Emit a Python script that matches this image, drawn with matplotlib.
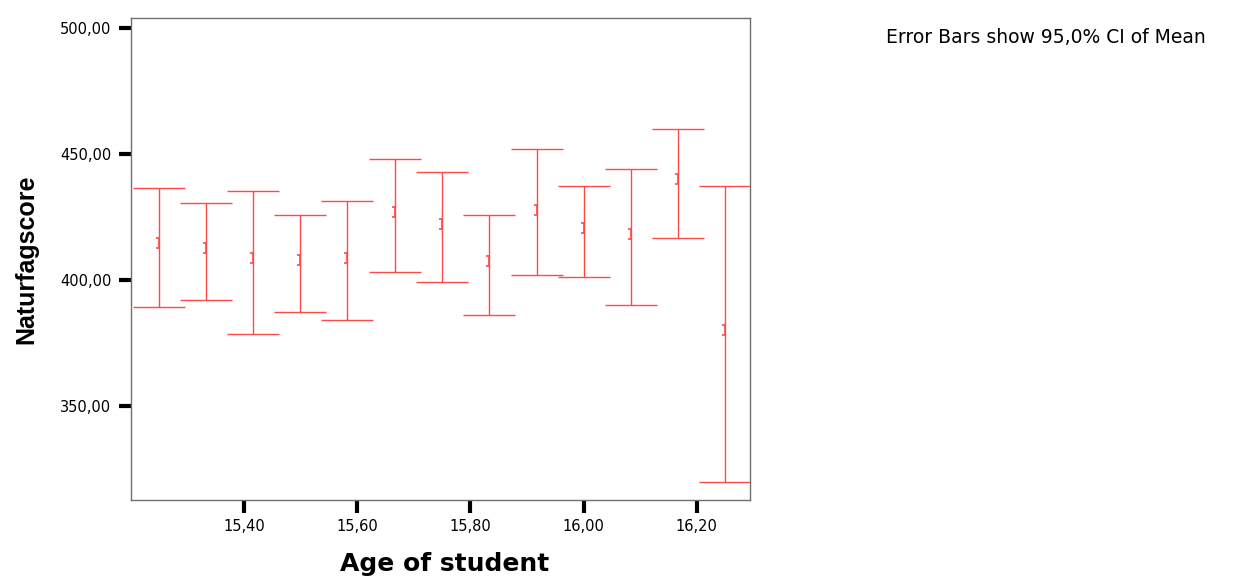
import matplotlib
matplotlib.use("Agg")
import matplotlib.pyplot as plt
from matplotlib.path import Path
from matplotlib.ticker import FuncFormatter

plt.rcParams["font.family"] = ["DejaVu Sans"]

# age of student (years) and 95% CI of Naturfagscore
ages = [15.25, 15.333, 15.417, 15.5, 15.583, 15.667, 15.75,
        15.833, 15.917, 16.0, 16.083, 16.167, 16.25]
means = [414.6, 412.6, 408.6, 407.9, 408.6, 426.9, 422.1,
         407.5, 428.0, 420.5, 418.1, 440.1, 380.2]
lower = [389.2, 391.9, 378.6, 387.2, 384.0, 403.2, 399.2,
         386.0, 402.0, 401.3, 390.0, 416.7, 320.0]
upper = [436.6, 430.7, 435.3, 425.9, 431.3, 448.0, 442.7,
         425.9, 452.0, 437.3, 443.9, 459.9, 437.3]

y_ticks = [350, 400, 450, 500]
x_ticks = [15.4, 15.6, 15.8, 16.0, 16.2]

red = "#ff4a4a"

fig = plt.figure(figsize=(12.51, 5.77), dpi=100)
ax = fig.add_axes([0.1047, 0.1334, 0.4948, 0.8354])

yerr = [[m - lo for m, lo in zip(means, lower)],
        [hi - m for m, hi in zip(means, upper)]]
ax.errorbar(ages, means, yerr=yerr, fmt="none", ecolor=red,
            elinewidth=1, capsize=18.5, capthick=1)

# small "]" marker for the mean
bracket = Path([(-0.6, 1), (0, 1), (0, -1), (-0.6, -1)],
               [Path.MOVETO, Path.LINETO, Path.LINETO, Path.LINETO])
ax.plot(ages, means, linestyle="none", marker=bracket, markersize=7,
        markerfacecolor="none", markeredgecolor=red, markeredgewidth=1.2)

ax.set_xlim(15.2007, 16.294)
ax.set_ylim(312.7, 504.0)
ax.set_xticks(x_ticks)
ax.set_yticks(y_ticks)

comma = FuncFormatter(lambda v, p: f"{v:.2f}".replace(".", ","))
ax.xaxis.set_major_formatter(comma)
ax.yaxis.set_major_formatter(comma)

for s in ax.spines.values():
    s.set_color("#707070")
    s.set_linewidth(1)

ax.tick_params(direction="out", length=9, width=3, color="black",
               labelsize=10.5, pad=5)

ax.set_ylabel("Naturfagscore", fontsize=18, fontweight="bold",
              family="Liberation Sans", labelpad=0)
ax.yaxis.set_label_coords(-0.150, 0.5)
ax.set_xlabel("Age of student", fontsize=18, fontweight="bold")
ax.xaxis.set_label_coords(0.507, -0.108)

fig.text(0.708, 0.935, "Error Bars show 95,0% CI of Mean", fontsize=13.5,
         ha="left", va="center")

fig.savefig("out.png", dpi=100)
